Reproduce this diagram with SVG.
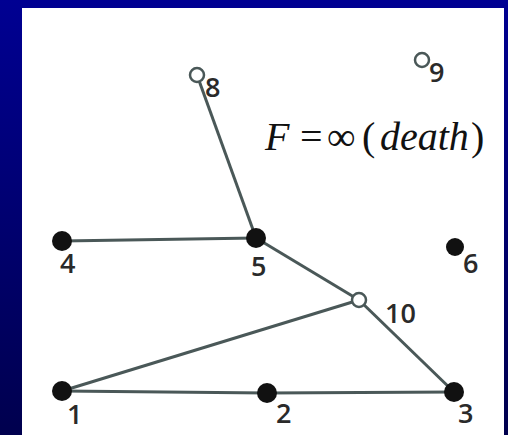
<svg xmlns="http://www.w3.org/2000/svg" width="508" height="435" viewBox="0 0 508 435">
<defs>
<linearGradient id="bg" x1="0" y1="0" x2="0" y2="1">
<stop offset="0" stop-color="#000092"/>
<stop offset="1" stop-color="#00004e"/>
</linearGradient>
<style>
.e{stroke:#4a5858;stroke-width:3;fill:none}
.f{fill:#111}
.o{fill:#fff;stroke:#4a5858;stroke-width:2.5}
.l{font-family:"Open Sans","Liberation Sans",sans-serif;font-size:27px;font-weight:600;fill:#2a2a2a}
.m{font-family:"Liberation Serif",serif;font-size:40px;fill:#111}
</style>
</defs>
<rect width="508" height="435" fill="url(#bg)"/>
<rect x="22" y="8" width="482" height="427" fill="#fff"/>
<g id="edges">
<line class="e" x1="197" y1="75" x2="256" y2="238"/>
<line class="e" x1="62" y1="241" x2="256" y2="238"/>
<line class="e" x1="256" y1="238" x2="359" y2="300"/>
<line class="e" x1="359" y1="300" x2="62" y2="391"/>
<line class="e" x1="359" y1="300" x2="454" y2="392"/>
<line class="e" x1="62" y1="391" x2="267" y2="393"/>
<line class="e" x1="267" y1="393" x2="454" y2="392"/>
</g>
<g id="n8"><circle class="o" cx="197" cy="75" r="7"/><text class="l" x="205" y="97">8</text></g>
<g id="n9"><circle class="o" cx="422" cy="60" r="7"/><text class="l" x="429" y="82">9</text></g>
<g id="n4"><circle class="f" cx="62" cy="241" r="10"/><text class="l" x="60" y="273">4</text></g>
<g id="n5"><circle class="f" cx="256" cy="238" r="10"/><text class="l" x="251" y="276">5</text></g>
<g id="n6"><circle class="f" cx="455" cy="247" r="9"/><text class="l" x="463" y="273">6</text></g>
<g id="n10"><circle class="o" cx="359" cy="300" r="7"/><text class="l" x="385" y="323">10</text></g>
<g id="n1"><circle class="f" cx="62" cy="391" r="10"/><text class="l" x="67" y="424">1</text></g>
<g id="n2"><circle class="f" cx="267" cy="393" r="10"/><text class="l" x="276" y="423">2</text></g>
<g id="n3"><circle class="f" cx="454" cy="392" r="10"/><text class="l" x="458" y="423">3</text></g>
<g id="formula">
<text class="m" x="265" y="150" font-style="italic">F</text>
<text class="m" x="300" y="150">=</text>
<text class="m" x="327" y="150">∞</text>
<text class="m" x="362" y="150">(</text>
<text class="m" x="380" y="150" font-style="italic">death</text>
<text class="m" x="471" y="150">)</text>
</g>
</svg>
